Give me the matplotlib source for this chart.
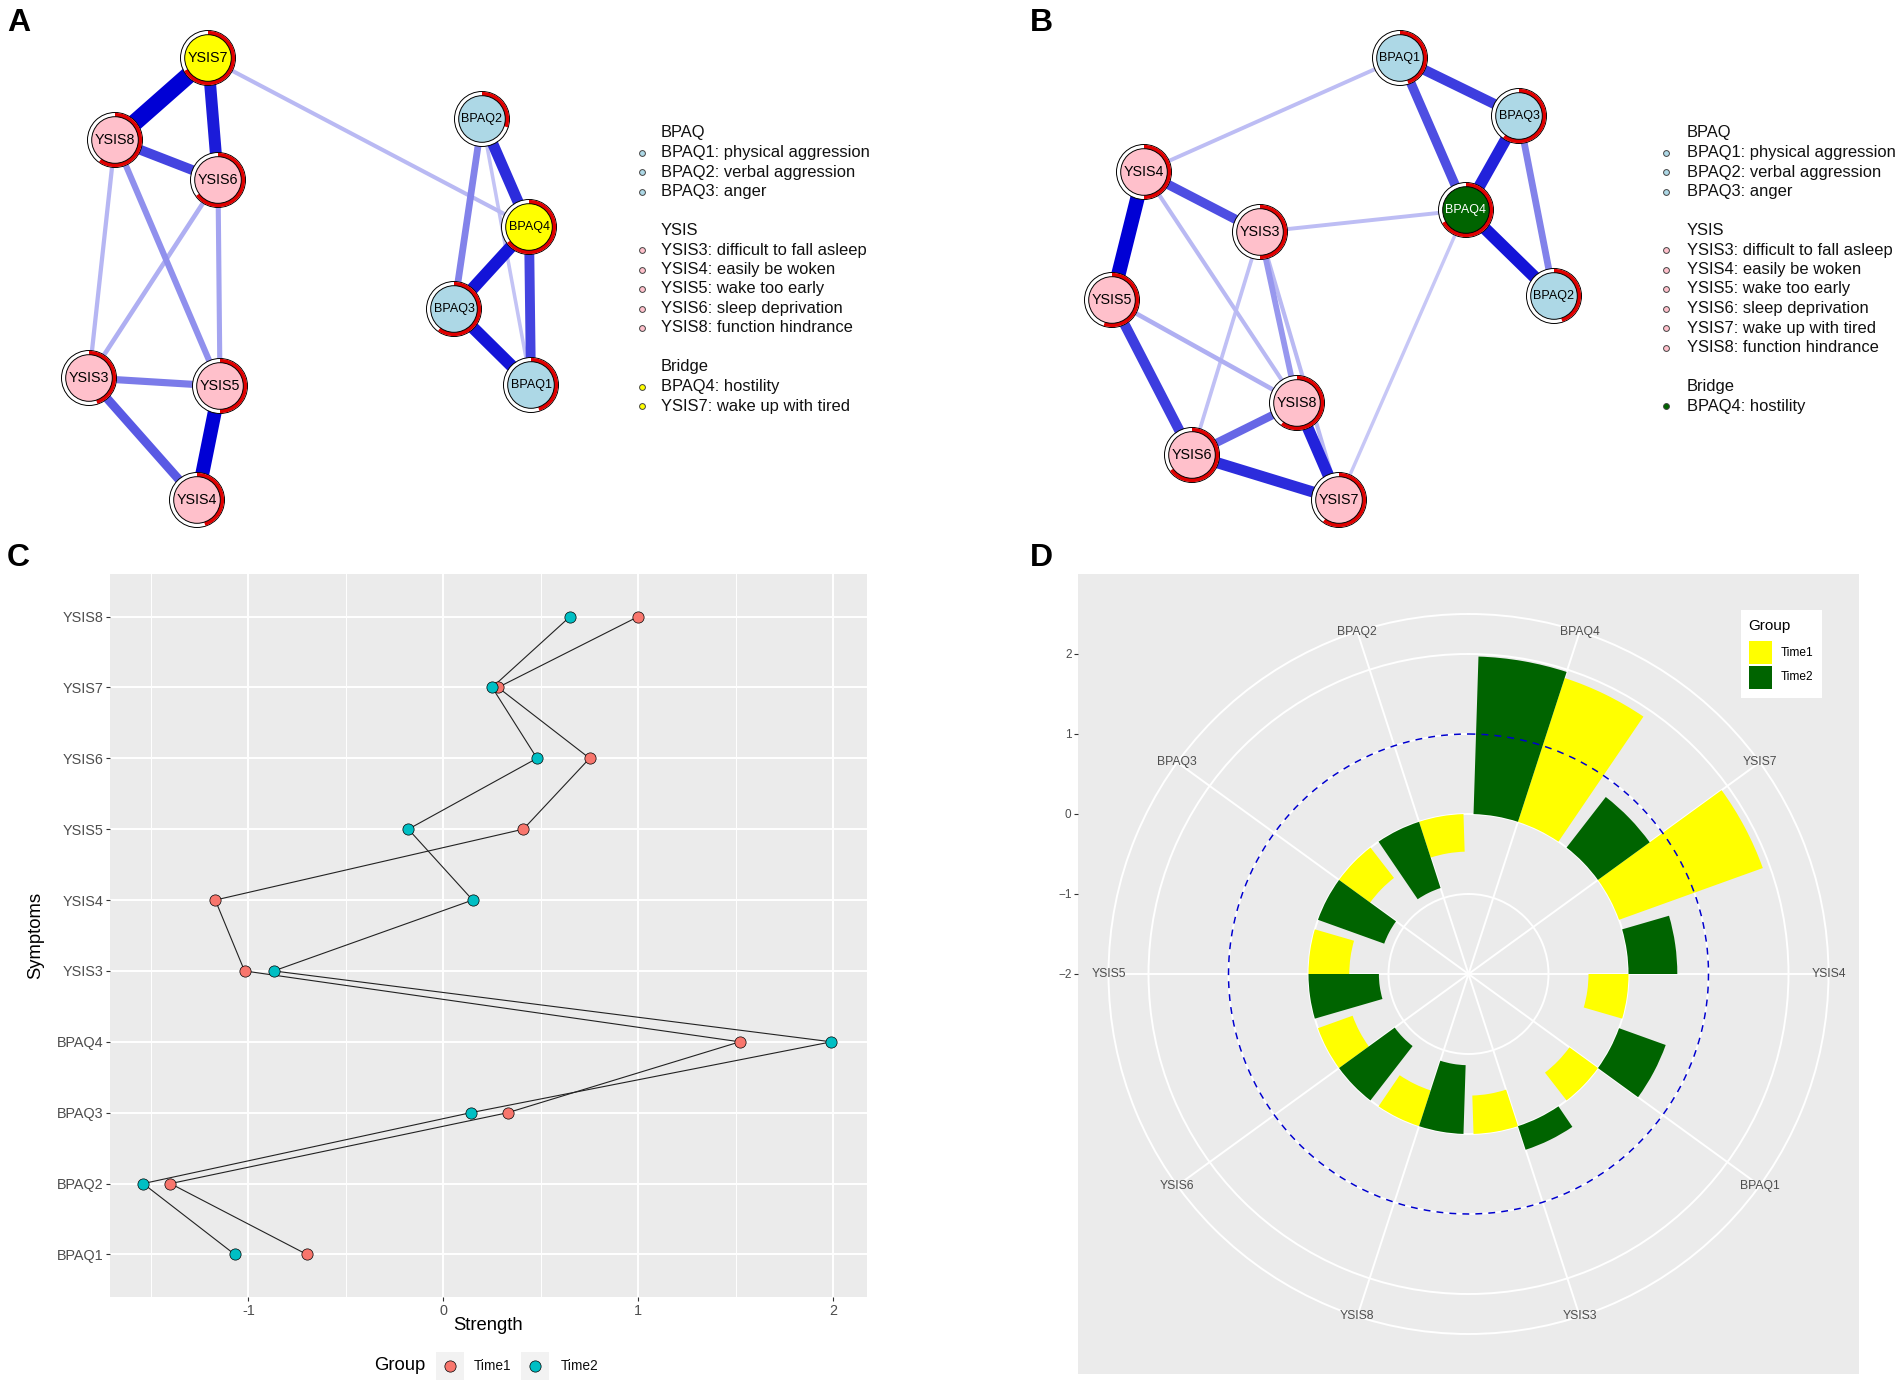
import numpy as np
import matplotlib
matplotlib.use('Agg')
import matplotlib.pyplot as plt
from matplotlib.patches import Circle, Wedge, Rectangle

plt.rcParams['font.family'] = ['Liberation Sans', 'DejaVu Sans']

W, H = 1902, 1384
PT = 0.72  # points per pixel at dpi 100

# ---------------- data ----------------
# network A (time 1): node layout in pixels, predictability (red arc share)
a_names = ['YSIS7', 'YSIS8', 'YSIS6', 'YSIS3', 'YSIS5', 'YSIS4', 'BPAQ2', 'BPAQ4', 'BPAQ3', 'BPAQ1']
a_x = [208, 115, 218, 89, 220, 197, 482, 529, 454, 531]
a_y = [58, 140, 180, 378, 386, 500, 119, 227, 309, 385]
a_pred = [0.67, 0.60, 0.65, 0.45, 0.50, 0.45, 0.30, 0.65, 0.60, 0.45]
a_fill = ['yellow', 'pink', 'pink', 'pink', 'pink', 'pink', 'lightblue', 'yellow', 'lightblue', 'lightblue']
a_edges = [('YSIS7', 'YSIS8', 1.00), ('YSIS7', 'YSIS6', 0.70), ('YSIS8', 'YSIS6', 0.58),
           ('YSIS7', 'BPAQ4', 0.24), ('YSIS8', 'YSIS3', 0.25), ('YSIS8', 'YSIS5', 0.36),
           ('YSIS6', 'YSIS3', 0.27), ('YSIS6', 'YSIS5', 0.30), ('YSIS3', 'YSIS5', 0.42),
           ('YSIS3', 'YSIS4', 0.52), ('YSIS5', 'YSIS4', 0.82), ('BPAQ2', 'BPAQ4', 0.65),
           ('BPAQ2', 'BPAQ3', 0.40), ('BPAQ2', 'BPAQ1', 0.21), ('BPAQ4', 'BPAQ3', 0.72),
           ('BPAQ4', 'BPAQ1', 0.58), ('BPAQ3', 'BPAQ1', 0.72)]

# network B (time 2)
b_names = ['BPAQ1', 'BPAQ3', 'BPAQ4', 'BPAQ2', 'YSIS4', 'YSIS3', 'YSIS5', 'YSIS8', 'YSIS6', 'YSIS7']
b_x = [1400, 1519, 1466, 1554, 1144, 1260, 1112, 1297, 1192, 1339]
b_y = [58, 116, 210, 296, 172, 232, 300, 403, 455, 500]
b_pred = [0.45, 0.60, 0.67, 0.45, 0.50, 0.50, 0.55, 0.60, 0.65, 0.60]
b_fill = ['lightblue', 'lightblue', 'darkgreen', 'lightblue', 'pink', 'pink', 'pink', 'pink', 'pink', 'pink']
b_edges = [('BPAQ1', 'BPAQ3', 0.60), ('BPAQ1', 'BPAQ4', 0.55), ('BPAQ3', 'BPAQ4', 0.68),
           ('BPAQ3', 'BPAQ2', 0.40), ('BPAQ4', 'BPAQ2', 0.72), ('BPAQ1', 'YSIS4', 0.23),
           ('BPAQ4', 'YSIS3', 0.23), ('BPAQ4', 'YSIS7', 0.20), ('YSIS4', 'YSIS3', 0.55),
           ('YSIS4', 'YSIS5', 0.85), ('YSIS4', 'YSIS8', 0.24), ('YSIS3', 'YSIS6', 0.22),
           ('YSIS3', 'YSIS8', 0.34), ('YSIS3', 'YSIS7', 0.24), ('YSIS5', 'YSIS8', 0.27),
           ('YSIS5', 'YSIS6', 0.60), ('YSIS6', 'YSIS8', 0.48), ('YSIS6', 'YSIS7', 0.65),
           ('YSIS8', 'YSIS7', 0.68)]

a_legend = [('BPAQ', None), ('BPAQ1: physical aggression', 'lightblue'),
            ('BPAQ2: verbal aggression', 'lightblue'), ('BPAQ3: anger', 'lightblue'), None,
            ('YSIS', None), ('YSIS3: difficult to fall asleep', 'pink'),
            ('YSIS4: easily be woken', 'pink'), ('YSIS5: wake too early', 'pink'),
            ('YSIS6: sleep deprivation', 'pink'), ('YSIS8: function hindrance', 'pink'), None,
            ('Bridge', None), ('BPAQ4: hostility', 'yellow'), ('YSIS7: wake up with tired', 'yellow')]
b_legend = [('BPAQ', None), ('BPAQ1: physical aggression', 'lightblue'),
            ('BPAQ2: verbal aggression', 'lightblue'), ('BPAQ3: anger', 'lightblue'), None,
            ('YSIS', None), ('YSIS3: difficult to fall asleep', 'pink'),
            ('YSIS4: easily be woken', 'pink'), ('YSIS5: wake too early', 'pink'),
            ('YSIS6: sleep deprivation', 'pink'), ('YSIS7: wake up with tired', 'pink'),
            ('YSIS8: function hindrance', 'pink'), None,
            ('Bridge', None), ('BPAQ4: hostility', 'darkgreen')]

# panel C: strength centrality
c_symptoms = ['BPAQ1', 'BPAQ2', 'BPAQ3', 'BPAQ4', 'YSIS3', 'YSIS4', 'YSIS5', 'YSIS6', 'YSIS7', 'YSIS8']
c_time1 = [-0.70, -1.40, 0.33, 1.52, -1.02, -1.17, 0.41, 0.75, 0.28, 1.00]
c_time2 = [-1.07, -1.54, 0.14, 1.99, -0.87, 0.15, -0.18, 0.48, 0.25, 0.65]

# panel D: circular bars (clockwise from top)
d_labels = ['BPAQ4', 'YSIS7', 'YSIS4', 'BPAQ1', 'YSIS3', 'YSIS8', 'YSIS6', 'YSIS5', 'BPAQ3', 'BPAQ2']
d_time1 = [1.89, 1.91, -0.50, -0.44, -0.48, -0.47, -0.46, -0.51, -0.48, -0.47]
d_time2 = [1.97, 0.80, 0.61, 0.62, 0.31, -0.86, -0.86, -0.88, -0.88, -0.87]

FILLS = {'pink': '#FFC0CB', 'lightblue': '#ADD8E6', 'yellow': '#FFFF00', 'darkgreen': '#006400'}


def fx(x):
    return x / W


def fy(y):
    return 1 - y / H


def edge_color(w):
    a = np.clip(1.35 * w - 0.05, 0.17, 1.0)
    base = np.array([0, 0, 213]) / 255.0
    return tuple((1 - a) * np.ones(3) + a * base)


def draw_net(ax, names, xs, ys, preds, fills, edges):
    pos = {n: (x, y) for n, x, y in zip(names, xs, ys)}
    for n1, n2, w in sorted(edges, key=lambda e: e[2]):
        (x1, y1), (x2, y2) = pos[n1], pos[n2]
        ax.plot([x1, x2], [y1, y2], color=edge_color(w), lw=17 * w * PT,
                solid_capstyle='butt', zorder=1)
    for n, x, y, p, f in zip(names, xs, ys, preds, fills):
        ax.add_patch(Circle((x, y), 27.5, fc='white', ec='black', lw=0.7, zorder=3))
        ax.add_patch(Wedge((x, y), 27.1, -90, -90 + 360 * p, width=4.2,
                           fc='#E00000', ec='none', zorder=4))
        ax.add_patch(Circle((x, y), 23.3, fc=FILLS[f], ec='black', lw=0.7, zorder=5))
        fs = 10.3 if n.startswith('YSIS') else 9.0
        tc = 'white' if f == 'darkgreen' else 'black'
        ax.text(x, y, n, ha='center', va='center', fontsize=fs, color=tc, zorder=6)


def draw_net_legend(ax, rows, x_text, x_mark, y0=133, dy=19.5):
    for k, row in enumerate(rows):
        if row is None:
            continue
        label, col = row
        y = y0 + k * dy
        ax.text(x_text, y, label, ha='left', va='center', fontsize=11.9, color='#111111')
        if col is not None:
            ax.plot(x_mark, y, 'o', ms=4.2, mfc=FILLS[col], mec='#444444', mew=0.7)


fig = plt.figure(figsize=(W / 100, H / 100), dpi=100)

# ---------------- networks A and B ----------------
ax_net = fig.add_axes([0, fy(540), 1, 540 / H])
ax_net.set_xlim(0, W)
ax_net.set_ylim(540, 0)
ax_net.axis('off')
draw_net(ax_net, a_names, a_x, a_y, a_pred, a_fill, a_edges)
draw_net(ax_net, b_names, b_x, b_y, b_pred, b_fill, b_edges)
draw_net_legend(ax_net, a_legend, 661, 642)
draw_net_legend(ax_net, b_legend, 1687, 1666)

for lab, x, y in [('A', 7, 8), ('B', 1030, 8), ('C', 7, 543), ('D', 1030, 543)]:
    fig.text(fx(x), fy(y), lab, fontsize=23, fontweight='bold', ha='left', va='top')

# ---------------- panel C ----------------
axc = fig.add_axes([fx(110), fy(1297), 756.7 / W, 723 / H])
axc.set_facecolor('#EBEBEB')
ypos = np.arange(len(c_symptoms))
for vals, col in [(c_time1, '#F8766D'), (c_time2, '#00BFC4')]:
    axc.plot(vals, ypos, color='#222222', lw=0.8, zorder=3)
for vals, col in [(c_time1, '#F8766D'), (c_time2, '#00BFC4')]:
    axc.plot(vals, ypos, 'o', ms=8.1, mfc=col, mec='black', mew=0.5, ls='none', zorder=4)
axc.set_xlim(-1.71, 2.171)
axc.set_ylim(-0.6, len(c_symptoms) - 0.4)
axc.set_xticks([-1, 0, 1, 2])
axc.set_xticklabels(['-1', '0', '1', '2'])
axc.set_xticks([-1.5, -0.5, 0.5, 1.5], minor=True)
axc.set_yticks(ypos)
axc.set_yticklabels(c_symptoms)
axc.grid(which='major', color='white', lw=1.4)
axc.grid(which='minor', axis='x', color='white', lw=0.7)
axc.set_axisbelow(True)
axc.tick_params(which='major', length=2.9, width=0.8, color='#333333', labelsize=10.4,
                labelcolor='#4D4D4D', pad=1.8)
axc.tick_params(which='minor', length=0)
for s in axc.spines.values():
    s.set_visible(False)
fig.text(fx(488), fy(1325), 'Strength', fontsize=13.3, ha='center', va='center')
fig.text(fx(36), fy(935), 'Symptoms', fontsize=13.3, ha='center', va='center', rotation=90)

# legend for C (bottom, title on the left)
fig.text(fx(374), fy(1366), 'Group', fontsize=13.3, ha='left', va='center')
for cx, tx, lab, col in [(450, 474, 'Time1', '#F8766D'), (535, 561, 'Time2', '#00BFC4')]:
    fig.patches.append(Rectangle((fx(cx - 14), fy(1380)), 28 / W, 28 / H,
                                 transform=fig.transFigure, fc='#F2F2F2', ec='none'))
    fig.lines.append(plt.Line2D([fx(cx)], [fy(1366)], transform=fig.transFigure, marker='o',
                                ms=8.1, mfc=col, mec='black', mew=0.5, ls='none'))
    fig.text(fx(tx), fy(1366), lab, fontsize=9.9, ha='left', va='center', color='#111111')

# ---------------- panel D ----------------
axd = fig.add_axes([fx(1078), fy(1374), 781 / W, 800 / H])
axd.set_facecolor('#EBEBEB')
axd.set_xlim(-781 / 160, 781 / 160)
axd.set_ylim(-7, 3)
axd.set_xticks([])
axd.set_yticks([-2, -1, 0, 1, 2])
axd.tick_params(length=2.9, width=0.8, color='#333333', labelsize=8.5, labelcolor='#4D4D4D', pad=1.8)
for s in axd.spines.values():
    s.set_visible(False)

axp = fig.add_axes([fx(1468.5 - 360), fy(974 + 360), 720 / W, 720 / H], projection='polar')
axp.patch.set_alpha(0)
axp.set_theta_zero_location('N')
axp.set_theta_direction(-1)
n = len(d_labels)
step = 2 * np.pi / n
centers = (np.arange(n) + 0.5) * step
bw = 0.45 * step
axp.bar(centers + 0.5 * bw, d_time1, width=bw, bottom=0, color='#FFFF00', edgecolor='none', zorder=3)
axp.bar(centers - 0.5 * bw, d_time2, width=bw, bottom=0, color='#006400', edgecolor='none', zorder=3)
th = np.linspace(0, 2 * np.pi, 361)
axp.plot(th, np.ones_like(th), color='#0000CC', lw=1.1, ls=(0, (4.5, 4)), zorder=4)
axp.set_ylim(-2, 2.5)
axp.set_yticks([-1, 0, 1, 2])
axp.set_yticklabels([])
axp.set_xticks(centers)
axp.set_xticklabels([])
axp.grid(True, color='white', lw=1.4)
axp.set_axisbelow(True)
axp.spines['polar'].set_color('white')
axp.spines['polar'].set_linewidth(1.4)
axp.tick_params(length=0)
for t, lab in zip(centers, d_labels):
    axp.text(t, 2.5, lab, ha='center', va='center', fontsize=8.7, color='#4D4D4D', zorder=5)

# legend for D (inside panel)
fig.patches.append(Rectangle((fx(1741), fy(698)), 81 / W, 88 / H, transform=fig.transFigure,
                             fc='white', ec='none', zorder=5))
fig.text(fx(1748), fy(626), 'Group', fontsize=11, ha='left', va='center', zorder=6)
for ky, lab, col in [(652.5, 'Time1', '#FFFF00'), (677.5, 'Time2', '#006400')]:
    fig.patches.append(Rectangle((fx(1749), fy(ky + 11.5)), 23 / W, 23 / H,
                                 transform=fig.transFigure, fc=col, ec='none', zorder=6))
    fig.text(fx(1781), fy(ky), lab, fontsize=8.6, ha='left', va='center', zorder=6)

fig.savefig('out.png', dpi=100)
